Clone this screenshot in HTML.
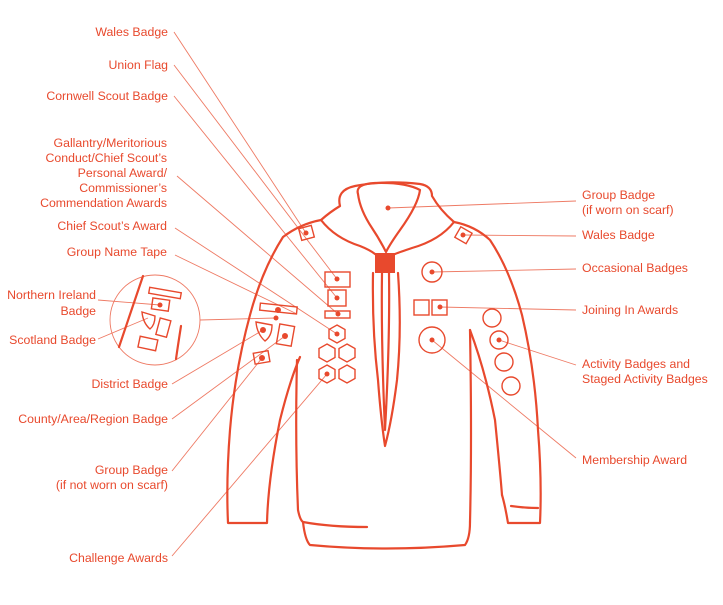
<!DOCTYPE html>
<html><head><style>
html,body{margin:0;padding:0;background:#fff;}
svg{display:block;}
text{font-family:"Liberation Sans",sans-serif;font-size:12.3px;fill:#e8492d;}
.l{stroke:#ee7a64;stroke-width:0.9;fill:none;}
.s{stroke:#e8492d;stroke-width:2.2;fill:none;stroke-linecap:round;stroke-linejoin:round;}
.b{stroke:#e8492d;stroke-width:1.4;fill:none;}
.d{fill:#e8492d;}
</style></head><body>
<svg width="723" height="605" viewBox="0 0 723 605">
<g text-anchor="end">
<text x="168" y="36">Wales Badge</text>
<text x="168" y="69">Union Flag</text>
<text x="168" y="100">Cornwell Scout Badge</text>
<text x="167" y="147">Gallantry/Meritorious</text>
<text x="167" y="162">Conduct/Chief Scout’s</text>
<text x="167" y="177">Personal Award/</text>
<text x="167" y="192">Commissioner’s</text>
<text x="167" y="207">Commendation Awards</text>
<text x="167" y="230">Chief Scout’s Award</text>
<text x="167" y="256">Group Name Tape</text>
<text x="96" y="299">Northern Ireland</text>
<text x="96" y="315">Badge</text>
<text x="96" y="344">Scotland Badge</text>
<text x="168" y="388">District Badge</text>
<text x="168" y="423">County/Area/Region Badge</text>
<text x="168" y="474">Group Badge</text>
<text x="168" y="489">(if not worn on scarf)</text>
<text x="168" y="562">Challenge Awards</text>
</g>
<g>
<text x="582" y="199">Group Badge</text>
<text x="582" y="214">(if worn on scarf)</text>
<text x="582" y="239">Wales Badge</text>
<text x="582" y="272">Occasional Badges</text>
<text x="582" y="314">Joining In Awards</text>
<text x="582" y="368">Activity Badges and</text>
<text x="582" y="383">Staged Activity Badges</text>
<text x="582" y="464">Membership Award</text>
</g>
<g class="l">
<line x1="174" y1="32" x2="306" y2="233"/>
<line x1="174" y1="65" x2="337" y2="279"/>
<line x1="174" y1="96" x2="337" y2="298"/>
<line x1="177" y1="176" x2="338" y2="314"/>
<line x1="175" y1="228" x2="337" y2="334"/>
<line x1="175" y1="255" x2="297" y2="314"/>
<line x1="98" y1="300" x2="160" y2="305"/>
<line x1="98" y1="339" x2="148" y2="318"/>
<line x1="200" y1="320" x2="276" y2="318"/>
<line x1="172" y1="384" x2="263" y2="330"/>
<line x1="172" y1="419" x2="285" y2="336"/>
<line x1="172" y1="471" x2="262" y2="358"/>
<line x1="172" y1="556" x2="327" y2="374"/>
<line x1="576" y1="201" x2="388" y2="208"/>
<line x1="576" y1="236" x2="463" y2="235"/>
<line x1="576" y1="269" x2="432" y2="272"/>
<line x1="576" y1="310" x2="440" y2="307"/>
<line x1="576" y1="365" x2="499" y2="340"/>
<line x1="576" y1="458" x2="432" y2="340"/>
</g>
<circle cx="155" cy="320" r="45" class="l"/>
<g class="b">
<line x1="143" y1="276" x2="119" y2="347" class="s"/>
<path d="M181 326 Q178 345 176 359" class="s"/>
<rect x="149" y="290" width="32" height="6" transform="rotate(10 165 293)"/>
<rect x="152" y="299" width="17" height="11" transform="rotate(8 160 305)"/>
<path d="M142 312 L155 316 Q155 325 150 329 Q143 323 142 312Z"/>
<rect x="158" y="319" width="11" height="17" transform="rotate(15 163 327)"/>
<rect x="139" y="338" width="18" height="11" transform="rotate(12 148 343)"/>
</g>
<circle cx="160" cy="305" r="2.5" class="d"/>
<g class="s">
<path d="M321 220 Q330 212 340 206 Q336 190 355 186 Q385 180 420 184 Q432 186 432 196 Q440 210 454 222"/>
<path d="M321 220 Q335 238 360 246 Q370 250 375 254"/>
<path d="M454 222 Q440 240 412 248 Q400 252 395 254"/>
<path d="M358 194 Q355 184 375 183 Q405 182 420 190 Q418 205 400 230 Q390 244 386 252 Q380 240 372 228 Q360 210 358 194Z"/>
<path d="M373 273 Q372 330 378 380 Q381 420 385 446 Q392 420 397 380 Q402 330 398 273"/>
<path d="M382 273 Q381 340 385 430 Q390 340 389 273"/>
<path d="M321 220 Q300 224 283 237 Q262 270 250 315 Q235 370 230 430 Q226 480 228 523 L267 523 Q268 480 280 420 Q290 380 300 357"/>
<path d="M297 360 Q295 440 298 510 Q300 520 303 522"/>
<path d="M303 522 Q305 540 310 545 Q385 552 465 545 Q470 538 470 522"/>
<path d="M303 522 Q330 527 367 527"/>
<path d="M454 222 Q475 226 490 240 Q510 270 522 315 Q535 370 538 430 Q542 480 540 523 L508 523 Q505 505 502 495"/>
<path d="M511 506 Q525 508 538 508"/>
<path d="M470 330 Q472 440 470 522"/>
<path d="M470 330 Q485 370 495 420 Q500 470 502 495"/>
</g>
<rect x="375" y="253" width="20" height="20" class="d"/>
<circle cx="388" cy="208" r="2.5" class="d"/>
<g class="b">
<rect x="300" y="227" width="13" height="12" transform="rotate(-15 306 233)"/>
<rect x="457" y="229" width="13" height="12" transform="rotate(30 463 235)"/>
<rect x="325" y="272" width="25" height="15"/>
<rect x="328" y="290" width="18" height="16"/>
<rect x="325" y="311" width="25" height="7"/>
<polygon points="337,325 345,329.5 345,338.5 337,343 329,338.5 329,329.5"/>
<polygon points="327,344 335,348.5 335,357.5 327,362 319,357.5 319,348.5"/>
<polygon points="347,344 355,348.5 355,357.5 347,362 339,357.5 339,348.5"/>
<polygon points="327,365 335,369.5 335,378.5 327,383 319,378.5 319,369.5"/>
<polygon points="347,365 355,369.5 355,378.5 347,383 339,378.5 339,369.5"/>
<rect x="260" y="305" width="37" height="7" transform="rotate(6 278 308)"/>
<path d="M256 322 L272 325 Q272 336 265 341 Q257 334 256 322Z"/>
<rect x="278" y="325" width="15" height="20" transform="rotate(10 285 335)"/>
<rect x="254" y="352" width="15" height="11" transform="rotate(-10 261 357)"/>
<circle cx="432" cy="272" r="10"/>
<rect x="414" y="300" width="15" height="15"/>
<rect x="432" y="300" width="15" height="15"/>
<circle cx="432" cy="340" r="13"/>
<circle cx="492" cy="318" r="9"/>
<circle cx="499" cy="340" r="9"/>
<circle cx="504" cy="362" r="9"/>
<circle cx="511" cy="386" r="9"/>
</g>
<g class="d">
<circle cx="306" cy="233" r="2.5"/><circle cx="463" cy="235" r="2.5"/>
<circle cx="337" cy="279" r="2.5"/><circle cx="337" cy="298" r="2.5"/>
<circle cx="338" cy="314" r="2.5"/><circle cx="337" cy="334" r="2.5"/>
<circle cx="327" cy="374" r="2.5"/><circle cx="278" cy="310" r="3"/>
<circle cx="276" cy="318" r="2.5"/><circle cx="263" cy="330" r="3"/>
<circle cx="285" cy="336" r="3"/><circle cx="262" cy="358" r="3"/>
<circle cx="432" cy="272" r="2.5"/><circle cx="440" cy="307" r="2.5"/>
<circle cx="432" cy="340" r="2.5"/><circle cx="499" cy="340" r="2.5"/>
</g>
</svg>
</body></html>
